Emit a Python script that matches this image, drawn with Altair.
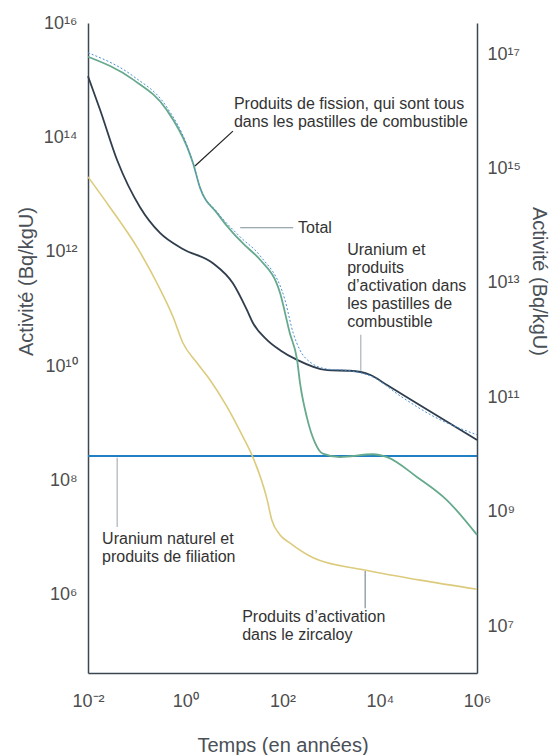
import altair as alt
import pandas as pd

# ---- data (log10 of years, log10 of Bq/kgU) ----
fission_logt = [-2, -1.07, -0.38, 0.04, 0.16, 0.30, 0.65, 0.98, 1.27, 1.54, 1.95, 2.15, 2.30, 2.36,
                2.50, 2.67, 2.83, 3.18, 3.86, 4.15, 4.77, 5.38, 6.0]
fission_logA = [15.41, 15.01, 14.48, 13.83, 13.55, 13.13, 12.68, 12.33, 12.08, 11.86, 11.28, 10.58,
                10.11, 9.71, 9.11, 8.66, 8.47, 8.41, 8.46, 8.41, 8.06, 7.66, 7.05]

uranium_logt = [-2, -1.75, -1.40, -0.93, -0.52, -0.05, 0.57, 0.98, 1.27, 1.39, 1.68, 1.95, 2.30,
                2.92, 3.39, 3.80, 4.15, 5.09, 6.0]
uranium_logA = [15.07, 14.48, 13.60, 12.78, 12.33, 12.05, 11.80, 11.45, 10.98, 10.76, 10.46, 10.28,
                10.11, 9.93, 9.92, 9.85, 9.67, 9.18, 8.71]

zirc_logt = [-2, -1.55, -0.97, -0.58, -0.25, -0.05, 0.24, 0.51, 0.86, 1.19, 1.39, 1.68, 1.78, 1.95,
             2.15, 2.63, 3.66, 4.83, 6.0]
zirc_logA = [13.31, 12.78, 12.05, 11.45, 10.86, 10.41, 10.06, 9.76, 9.29, 8.76, 8.41, 7.68, 7.31, 7.05,
             6.91, 6.65, 6.44, 6.26, 6.10]

total_logt = [-2, -1.07, -0.38, 0.04, 0.16, 0.30, 0.65, 1.13, 1.54, 2.05, 2.22, 2.36, 2.57, 2.92,
              3.39, 3.86, 4.42, 5.09, 6.0]
total_logA = [15.48, 15.07, 14.53, 13.85, 13.55, 13.13, 12.70, 12.26, 11.93, 11.16, 10.58, 10.28,
              10.07, 9.95, 9.92, 9.81, 9.48, 9.13, 8.80]

natural_logt = [-2, 6.0]
natural_logA = [8.43, 8.43]

# annotations: text anchor (log t, log A), first-line baseline
note_text = [
    "Produits de fission, qui sont tous\ndans les pastilles de combustible",
    "Total",
    "Uranium et\nproduits\nd’activation dans\nles pastilles de\ncombustible",
    "Uranium naturel et\nproduits de filiation",
    "Produits d’activation\ndans le zircaloy",
]
note_logt = [1.00, 2.32, 3.33, -1.71, 1.17]
note_logA = [14.50, 12.33, 11.94, 6.89, 5.53]

# leader lines
lead_logt1 = [0.20, 1.13, 3.61, -1.40, 3.70]
lead_logA1 = [13.50, 12.42, 10.55, 8.40, 6.42]
lead_logt2 = [0.98, 2.22, 3.61, -1.40, 3.70]
lead_logA2 = [14.11, 12.42, 9.92, 7.19, 5.77]
lead_color = ["#222222", "#7d8e9b", "#a9b3ba", "#a9b3ba", "#7d8e9b"]

x_tick_exp = [-2, 0, 2, 4, 6]
left_tick_exp = [6, 8, 10, 12, 14, 16]
right_tick_exp = [7, 9, 11, 13, 15, 17]
left_domain_exp = [4.636, 16.0]
right_domain_exp = [6.18, 17.543]
x_domain_exp = [-2, 6]

SUP = {'-': '⁻', '0': '⁰', '1': '¹', '2': '²', '3': '³', '4': '⁴',
       '5': '⁵', '6': '⁶', '7': '⁷', '8': '⁸', '9': '⁹'}


def sup_expr(exps):
    e = "round(log(datum.value)/LN10)"
    parts = []
    for k in exps:
        s = ''.join(SUP[c] for c in str(k))
        parts.append(f"{e} == {k} ? '10{s}' : ")
    return ''.join(parts) + "''"


def frame(logt, logA):
    return pd.DataFrame({"t": [10 ** v for v in logt], "A": [10 ** v for v in logA]})


FONT = "Liberation Sans"
AXIS_COL = "#3b4753"
LABEL_COL = "#4d4d4d"
TITLE_COL = "#4a5057"

x_scale = alt.Scale(type="log", domain=[10 ** v for v in x_domain_exp], nice=False)
y_scale = alt.Scale(type="log", domain=[10 ** v for v in left_domain_exp], nice=False)
r_scale = alt.Scale(type="log", domain=[10 ** v for v in right_domain_exp], nice=False)

x_axis = alt.Axis(values=[10 ** v for v in x_tick_exp], labelExpr=sup_expr(x_tick_exp),
                  ticks=False, grid=False, domainColor=AXIS_COL, domainWidth=1.5,
                  labelFont=FONT, labelFontSize=18, labelColor=LABEL_COL, labelPadding=19,
                  labelFlush=False,
                  title="Temps (en années)", titleFont=FONT, titleFontSize=20,
                  titleFontWeight="normal", titleColor=TITLE_COL, titleY=78,
                  titleBaseline="alphabetic")
y_axis = alt.Axis(values=[10 ** v for v in left_tick_exp], labelExpr=sup_expr(left_tick_exp),
                  ticks=False, grid=False, domainColor=AXIS_COL, domainWidth=1.5,
                  labelFont=FONT, labelFontSize=18, labelColor=LABEL_COL, labelPadding=11,
                  labelFlush=False,
                  title="Activité (Bq/kgU)", titleFont=FONT, titleFontSize=20,
                  titleFontWeight="normal", titleColor=TITLE_COL, titleAngle=-90,
                  titleX=-56, titleY=258, titleAlign="center", titleBaseline="alphabetic")
r_axis = alt.Axis(values=[10 ** v for v in right_tick_exp], labelExpr=sup_expr(right_tick_exp),
                  orient="right", ticks=False, grid=False, domainColor=AXIS_COL, domainWidth=1.5,
                  labelFont=FONT, labelFontSize=18, labelColor=LABEL_COL, labelPadding=10,
                  labelFlush=False,
                  title="Activité (Bq/kgU)", titleFont=FONT, titleFontSize=20,
                  titleFontWeight="normal", titleColor=TITLE_COL, titleAngle=90,
                  titleX=55, titleY=258, titleAlign="center", titleBaseline="alphabetic")

X = alt.X("t:Q", scale=x_scale, axis=x_axis)
Y = alt.Y("A:Q", scale=y_scale, axis=y_axis)


def line(logt, logA, color, width, dash=None):
    kw = dict(color=color, strokeWidth=width, interpolate="monotone")
    if dash:
        kw["strokeDash"] = dash
    return alt.Chart(frame(logt, logA)).mark_line(**kw).encode(x=X, y=Y)


natural = line(natural_logt, natural_logA, "#1f7fc2", 2.2)
zirc = line(zirc_logt, zirc_logA, "#dccb7c", 1.6)
uranium = line(uranium_logt, uranium_logA, "#2f3d4c", 1.8)
fission = line(fission_logt, fission_logA, "#66a98d", 1.8)
total = line(total_logt, total_logA, "#4a8fd8", 1.0, [2, 2])

lead_df = pd.DataFrame({
    "t": [10 ** v for v in lead_logt1], "A": [10 ** v for v in lead_logA1],
    "t2": [10 ** v for v in lead_logt2], "A2": [10 ** v for v in lead_logA2],
    "c": lead_color,
})
leaders = alt.Chart(lead_df).mark_rule(strokeWidth=1.2).encode(
    x=X, y=Y, x2="t2:Q", y2="A2:Q", color=alt.Color("c:N", scale=None))

note_df = pd.DataFrame({"t": [10 ** v for v in note_logt], "A": [10 ** v for v in note_logA],
                        "label": note_text})
notes = alt.Chart(note_df).mark_text(align="left", baseline="alphabetic", font=FONT, fontSize=16,
                                     lineHeight=18, lineBreak="\n", color="#333333").encode(
    x=X, y=Y, text="label:N")

left = alt.layer(natural, zirc, uranium, fission, total, leaders, notes)

right_df = pd.DataFrame({"t": [10 ** x_domain_exp[0]] * len(right_tick_exp),
                         "A": [10 ** v for v in right_tick_exp]})
right = alt.Chart(right_df).mark_point(opacity=0).encode(
    x=X, y=alt.Y("A:Q", scale=r_scale, axis=r_axis))

chart = alt.layer(left, right).resolve_scale(y="independent").properties(
    width=389, height=650,
    autosize=alt.AutoSizeParams(type="none"),
    padding={"left": 80, "top": 15, "right": 73, "bottom": 82},
).configure_view(strokeWidth=0)

chart.save("out.html", embed_options={"renderer": "svg", "actions": False})
